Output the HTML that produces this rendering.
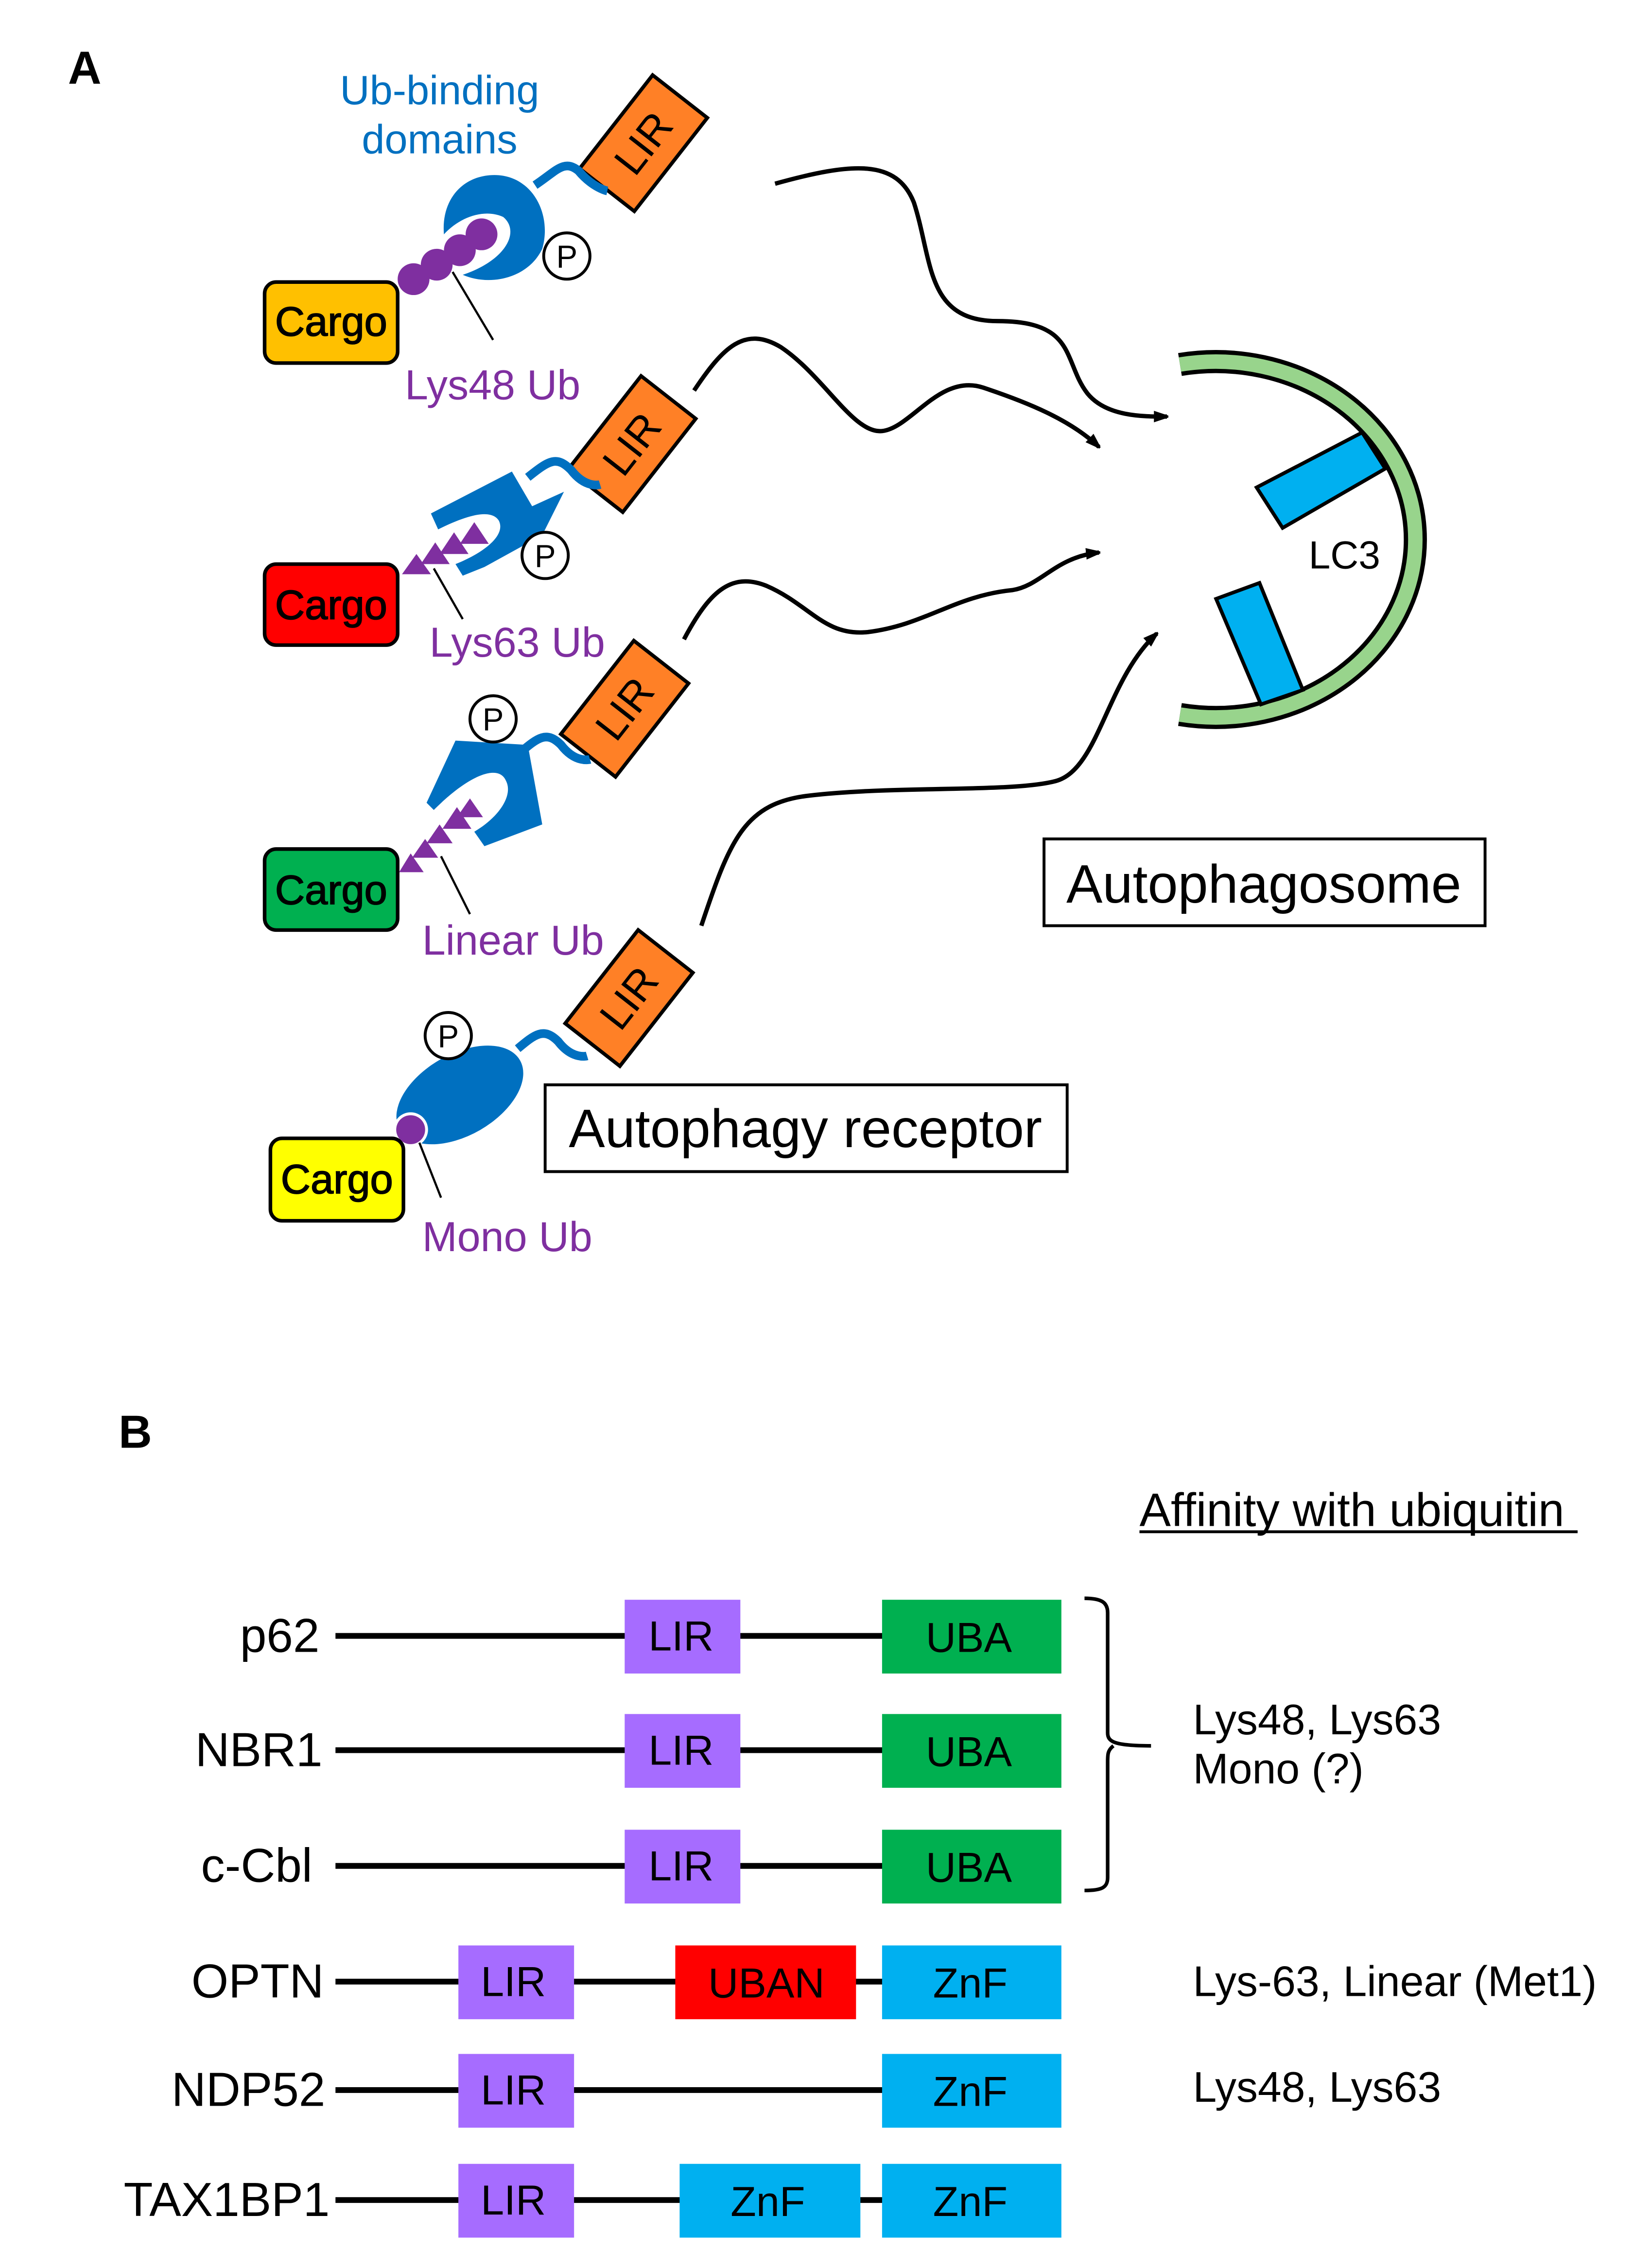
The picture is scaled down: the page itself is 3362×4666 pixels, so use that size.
<!DOCTYPE html>
<html><head><style>html,body{margin:0;padding:0;background:#fff}svg{display:block}</style></head><body>
<svg width="3362" height="4666" viewBox="0 0 1130 1568" preserveAspectRatio="none" xmlns="http://www.w3.org/2000/svg" font-family="Liberation Sans, Arial, sans-serif">
<defs><marker id="ah" markerWidth="10" markerHeight="8" refX="9" refY="4" orient="auto" markerUnits="userSpaceOnUse"><path d="M0,0 L12,4 L0,8 z" fill="#000"/></marker></defs>
<text x="47" y="58" font-size="32" font-weight="bold">A</text>
<text x="304" y="72" font-size="28.5" fill="#0070c0" text-anchor="middle">Ub-binding</text>
<text x="304" y="106" font-size="28.5" fill="#0070c0" text-anchor="middle">domains</text>

<g fill="none" stroke="#000" stroke-width="3">
<path d="M536,127 C590,112 620,110 632,140 C645,180 640,222 690,222 C745,222 735,250 752,272 C765,288 790,288 807,288" marker-end="url(#ah)"/>
<path d="M480,270 C500,240 515,225 540,240 C570,260 590,300 610,298 C630,296 650,258 680,268 C710,278 740,290 760,309" marker-end="url(#ah)"/>
<path d="M473,442 C490,410 505,395 530,405 C560,418 570,440 600,437 C640,432 660,412 700,408 C720,405 730,385 760,382" marker-end="url(#ah)"/>
<path d="M485,640 C505,580 515,555 560,550 C620,543 700,548 730,540 C760,532 765,470 800,438" marker-end="url(#ah)"/>
</g>

<path d="M816,252 A138,123 0 1 1 816,494" fill="none" stroke="#000" stroke-width="16"/>
<path d="M816,252 A138,123 0 1 1 816,494" fill="none" stroke="#98d48c" stroke-width="10"/>
<polygon points="869,337 942,299 958,324 887,365" fill="#00b0f0" stroke="#000" stroke-width="2.5"/>
<polygon points="841,414 871,403 901,477 872,487" fill="#00b0f0" stroke="#000" stroke-width="2.5"/>
<text x="905" y="393" font-size="27">LC3</text>
<rect x="722" y="580" width="305" height="60" fill="#fff" stroke="#000" stroke-width="2"/>
<text x="874" y="624" font-size="37.5" text-anchor="middle">Autophagosome</text>
<rect x="377" y="750" width="361" height="60" fill="#fff" stroke="#000" stroke-width="2"/>
<text x="557" y="793" font-size="37.5" text-anchor="middle">Autophagy receptor</text>

<g font-size="29" text-anchor="middle">
<g transform="translate(445,99) rotate(-52)"><rect x="-41" y="-24" width="82" height="48" fill="#ff8026" stroke="#000" stroke-width="2.5"/><text y="10">LIR</text></g>
<g transform="translate(437,307) rotate(-52)"><rect x="-41" y="-24" width="82" height="48" fill="#ff8026" stroke="#000" stroke-width="2.5"/><text y="10">LIR</text></g>
<g transform="translate(432,490) rotate(-52)"><rect x="-41" y="-24" width="82" height="48" fill="#ff8026" stroke="#000" stroke-width="2.5"/><text y="10">LIR</text></g>
<g transform="translate(435,690) rotate(-52)"><rect x="-41" y="-24" width="82" height="48" fill="#ff8026" stroke="#000" stroke-width="2.5"/><text y="10">LIR</text></g>
</g>

<g fill="none" stroke="#0070c0" stroke-width="6">
<path d="M370,128 C385,118 390,110 400,118 C410,130 420,132 420,132"/>
<path d="M365,330 C380,318 385,315 395,325 C405,338 415,335 415,335"/>
<path d="M360,520 C372,510 378,505 388,515 C398,528 408,525 408,525"/>
<path d="M358,725 C370,715 376,710 386,720 C396,733 406,730 406,730"/>
</g>

<path d="M342,121 C320,121 305,138 307,162 C318,150 335,144 348,150 C360,160 350,180 320,190 C338,198 365,193 375,172 C382,148 368,121 342,121 z" fill="#0070c0"/>
<g fill="#7f2fa0"><circle cx="286" cy="193" r="11"/><circle cx="302" cy="183" r="11"/><circle cx="318" cy="173" r="11"/><circle cx="333" cy="162" r="11"/></g>
<line x1="313" y1="188" x2="341" y2="235" stroke="#000" stroke-width="1.5"/>
<path d="M298,355 L354,326 L368,350 L390,340 L375,370 L335,392 L320,398 L315,390 C335,382 350,370 345,360 C340,352 325,355 303,366 z" fill="#0070c0"/>
<g fill="#7f2fa0"><polygon points="278,397 288,383 298,397"/><polygon points="291,390 301,375 311,390"/><polygon points="304,383 314,368 324,383"/><polygon points="318,376 328,361 338,376"/></g>
<line x1="300" y1="393" x2="320" y2="428" stroke="#000" stroke-width="1.5"/>
<path d="M315,512 L365,515 L375,570 L335,585 L328,575 C345,565 355,550 350,540 C345,528 325,535 300,560 L295,555 z" fill="#0070c0"/>
<g fill="#7f2fa0"><polygon points="276,603 284,590 293,603"/><polygon points="285,593 294,580 303,593"/><polygon points="295,583 304,570 313,583"/><polygon points="306,573 316,558 326,573"/><polygon points="316,565 325,552 334,565"/></g>
<line x1="305" y1="592" x2="325" y2="632" stroke="#000" stroke-width="1.5"/>
<ellipse cx="318" cy="757" rx="48" ry="28" transform="rotate(-30 318 757)" fill="#0070c0"/>
<circle cx="284" cy="781" r="12" fill="#fff"/>
<circle cx="284" cy="781" r="10" fill="#7f2fa0"/>
<line x1="290" y1="790" x2="305" y2="828" stroke="#000" stroke-width="1.5"/>

<g fill="#fff" stroke="#000" stroke-width="2"><circle cx="392" cy="177" r="16"/><circle cx="377" cy="384" r="16"/><circle cx="341" cy="497" r="16"/><circle cx="310" cy="716" r="16"/></g>
<g font-size="22" text-anchor="middle"><text x="392" y="185">P</text><text x="377" y="392">P</text><text x="341" y="505">P</text><text x="310" y="724">P</text></g>

<g stroke="#000" stroke-width="2.5">
<rect x="183" y="195" width="92" height="56" rx="8" fill="#ffc000"/>
<rect x="183" y="390" width="92" height="56" rx="8" fill="#ff0000"/>
<rect x="183" y="587" width="92" height="56" rx="8" fill="#00b050"/>
<rect x="187" y="787" width="92" height="57" rx="8" fill="#ffff00"/>
</g>
<g font-size="28.5" text-anchor="middle" stroke="#000" stroke-width="0.6"><text x="229" y="232">Cargo</text><text x="229" y="428">Cargo</text><text x="229" y="625">Cargo</text><text x="233" y="825">Cargo</text></g>
<g font-size="29" fill="#7f2fa0"><text x="280" y="276">Lys48 Ub</text><text x="297" y="454">Lys63 Ub</text><text x="292" y="660">Linear Ub</text><text x="292" y="865">Mono Ub</text></g>

<text x="82" y="1001" font-size="32" font-weight="bold">B</text>
<text x="788" y="1055" font-size="32.5">Affinity with ubiquitin</text>
<line x1="788" y1="1059" x2="1091" y2="1059" stroke="#000" stroke-width="2"/>
<g stroke="#000" stroke-width="4">
<line x1="232" y1="1131" x2="612" y2="1131"/><line x1="232" y1="1210" x2="612" y2="1210"/><line x1="232" y1="1290" x2="612" y2="1290"/>
<line x1="232" y1="1370" x2="612" y2="1370"/><line x1="232" y1="1445" x2="612" y2="1445"/><line x1="232" y1="1521" x2="612" y2="1521"/>
</g>
<g font-size="33" text-anchor="end"><text x="221" y="1142">p62</text><text x="223" y="1221">NBR1</text><text x="216" y="1301">c-Cbl</text><text x="224" y="1381">OPTN</text><text x="225" y="1456">NDP52</text><text x="228" y="1532">TAX1BP1</text></g>
<g fill="#a66cff"><rect x="432" y="1106" width="80" height="51"/><rect x="432" y="1185" width="80" height="51"/><rect x="432" y="1265" width="80" height="51"/><rect x="317" y="1345" width="80" height="51"/><rect x="317" y="1420" width="80" height="51"/><rect x="317" y="1496" width="80" height="51"/></g>
<g fill="#00b050"><rect x="610" y="1106" width="124" height="51"/><rect x="610" y="1185" width="124" height="51"/><rect x="610" y="1265" width="124" height="51"/></g>
<rect x="467" y="1345" width="125" height="51" fill="#ff0000"/>
<g fill="#00b0f0"><rect x="610" y="1345" width="124" height="51"/><rect x="610" y="1420" width="124" height="51"/><rect x="610" y="1496" width="124" height="51"/><rect x="470" y="1496" width="125" height="51"/></g>
<g font-size="29" text-anchor="middle">
<text x="471" y="1141">LIR</text><text x="471" y="1220">LIR</text><text x="471" y="1300">LIR</text><text x="355" y="1380">LIR</text><text x="355" y="1455">LIR</text><text x="355" y="1531">LIR</text>
<text x="670" y="1142">UBA</text><text x="670" y="1221">UBA</text><text x="670" y="1301">UBA</text>
<text x="530" y="1381">UBAN</text><text x="671" y="1381">ZnF</text><text x="671" y="1456">ZnF</text><text x="671" y="1532">ZnF</text><text x="531" y="1532">ZnF</text>
</g>
<path d="M750,1105 C762,1105 766,1108 766,1115 L766,1198 C766,1204 770,1207 796,1207 M770,1207 C766,1210 766,1213 766,1218 L766,1298 C766,1305 762,1307 750,1307" fill="none" stroke="#000" stroke-width="2.5"/>
<g font-size="29.5"><text x="825" y="1199">Lys48, Lys63</text><text x="825" y="1233">Mono (?)</text><text x="825" y="1380">Lys-63, Linear (Met1)</text><text x="825" y="1453">Lys48, Lys63</text></g>
</svg>
</body></html>
